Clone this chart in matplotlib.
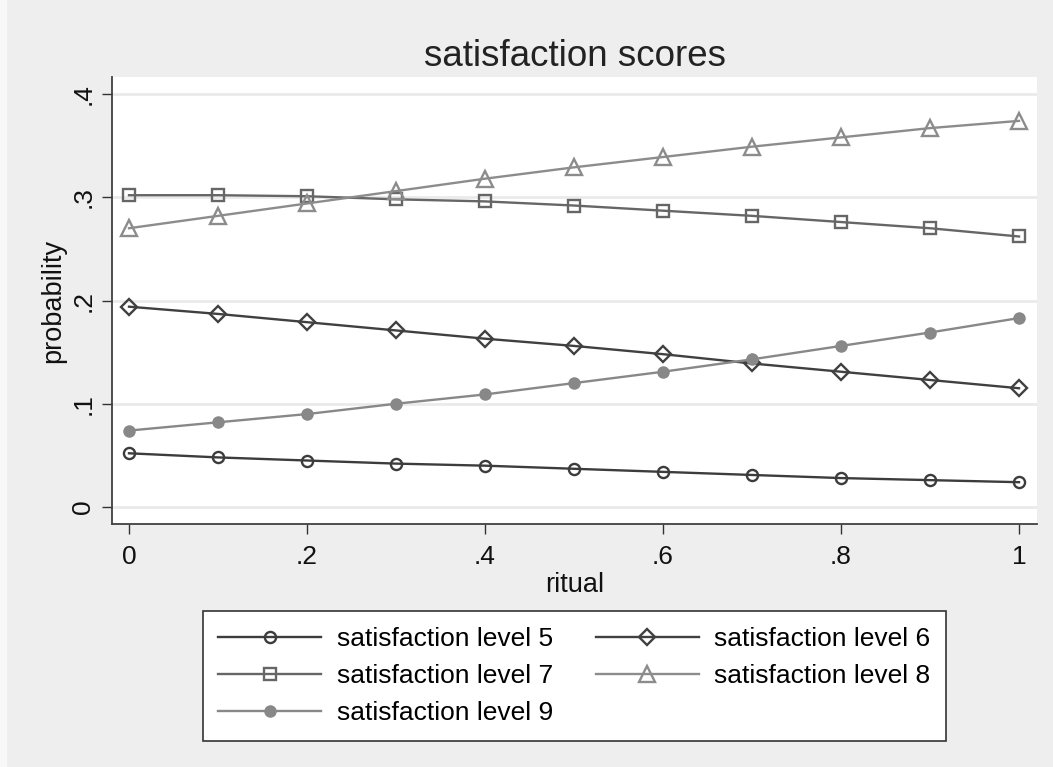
import numpy as np
import matplotlib
matplotlib.use("Agg")
import matplotlib.pyplot as plt
from matplotlib.patches import Rectangle

plt.rcParams['font.family'] = ['Liberation Sans', 'DejaVu Sans']

# predicted probabilities over the ritual scale
ritual = [0.0, 0.1, 0.2, 0.3, 0.4, 0.5, 0.6, 0.7, 0.8, 0.9, 1.0]
level5 = [0.052, 0.048, 0.045, 0.042, 0.040, 0.037, 0.034, 0.031, 0.028, 0.026, 0.024]
level6 = [0.194, 0.187, 0.179, 0.171, 0.163, 0.156, 0.148, 0.139, 0.131, 0.123, 0.115]
level7 = [0.302, 0.302, 0.301, 0.298, 0.296, 0.292, 0.287, 0.282, 0.276, 0.270, 0.262]
level8 = [0.270, 0.282, 0.294, 0.306, 0.318, 0.329, 0.339, 0.349, 0.358, 0.367, 0.374]
level9 = [0.074, 0.082, 0.090, 0.100, 0.109, 0.120, 0.131, 0.143, 0.156, 0.169, 0.183]

series_labels = ["satisfaction level 5", "satisfaction level 6", "satisfaction level 7",
                 "satisfaction level 8", "satisfaction level 9"]
xticks = [0, 0.2, 0.4, 0.6, 0.8, 1.0]
xtick_labels = ["0", ".2", ".4", ".6", ".8", "1"]
yticks = [0, 0.1, 0.2, 0.3, 0.4]
ytick_labels = ["0", ".1", ".2", ".3", ".4"]

BG = "#eeeeee"

fig = plt.figure(figsize=(10.53, 7.67), dpi=100, facecolor=BG)
fig.patches.append(Rectangle((0, 0), 7 / 1053, 1, transform=fig.transFigure,
                             facecolor="#f8f8f8", edgecolor="none", zorder=0))
ax = fig.add_axes([112 / 1053, 1 - 524 / 767, (1037 - 112) / 1053, (524 - 77) / 767])
ax.set_facecolor("white")

styles = [
    dict(color="#3c3c3c", marker="o", ms=8, mfc="none", mew=1.7),
    dict(color="#404040", marker="D", ms=8.5, mfc="none", mew=1.7),
    dict(color="#666666", marker="s", ms=8.5, mfc="none", mew=1.7),
    dict(color="#8c8c8c", marker="^", ms=11, mfc="none", mew=1.7),
    dict(color="#888888", marker="o", ms=9, mfc="#888888", mew=0),
]
lines = []
for ys, lab, st in zip([level5, level6, level7, level8, level9], series_labels, styles):
    ln, = ax.plot(ritual, ys, lw=1.7, label=lab, clip_on=False, **st)
    lines.append(ln)

ax.set_xlim(-0.0191, 1.0202)
ax.set_ylim(-0.0165, 0.4165)
ax.set_xticks(xticks)
ax.set_xticklabels(xtick_labels)
ax.set_yticks(yticks)
ax.set_yticklabels(ytick_labels, rotation=90, va="center")
ax.tick_params(axis="both", length=7, width=1, color="#333333", labelsize=19,
               labelcolor="#111111")
ax.tick_params(axis="x", pad=8)
ax.tick_params(axis="y", pad=5)
ax.grid(axis="y", color="#eaeaea", lw=2)
ax.set_axisbelow(True)
for side in ["top", "right"]:
    ax.spines[side].set_visible(False)
for side in ["left", "bottom"]:
    ax.spines[side].set_color("#404040")
    ax.spines[side].set_linewidth(1.3)

ax.set_xlabel("ritual", fontsize=19.5, color="#111111", labelpad=2)
ax.set_ylabel("probability", fontsize=19.5, color="#111111", labelpad=4)
ax.set_title("satisfaction scores", fontsize=26.5, color="#222222", pad=8)

# row-major order: matplotlib fills legend columns first
order = [0, 2, 4, 1, 3]
leg = fig.legend([lines[i] for i in order], [series_labels[i] for i in order],
                 loc="upper center", bbox_to_anchor=(574.5 / 1053, 1 - 611 / 767),
                 ncol=2, fontsize=19, frameon=True, fancybox=False, framealpha=1,
                 handlelength=3.9, handletextpad=0.6, columnspacing=1.6,
                 labelspacing=0.5, borderpad=0.6, borderaxespad=0)
leg.get_frame().set_edgecolor("#333333")
leg.get_frame().set_facecolor("white")
leg.get_frame().set_linewidth(1.2)

fig.savefig("out.png", dpi=100, facecolor=BG)
